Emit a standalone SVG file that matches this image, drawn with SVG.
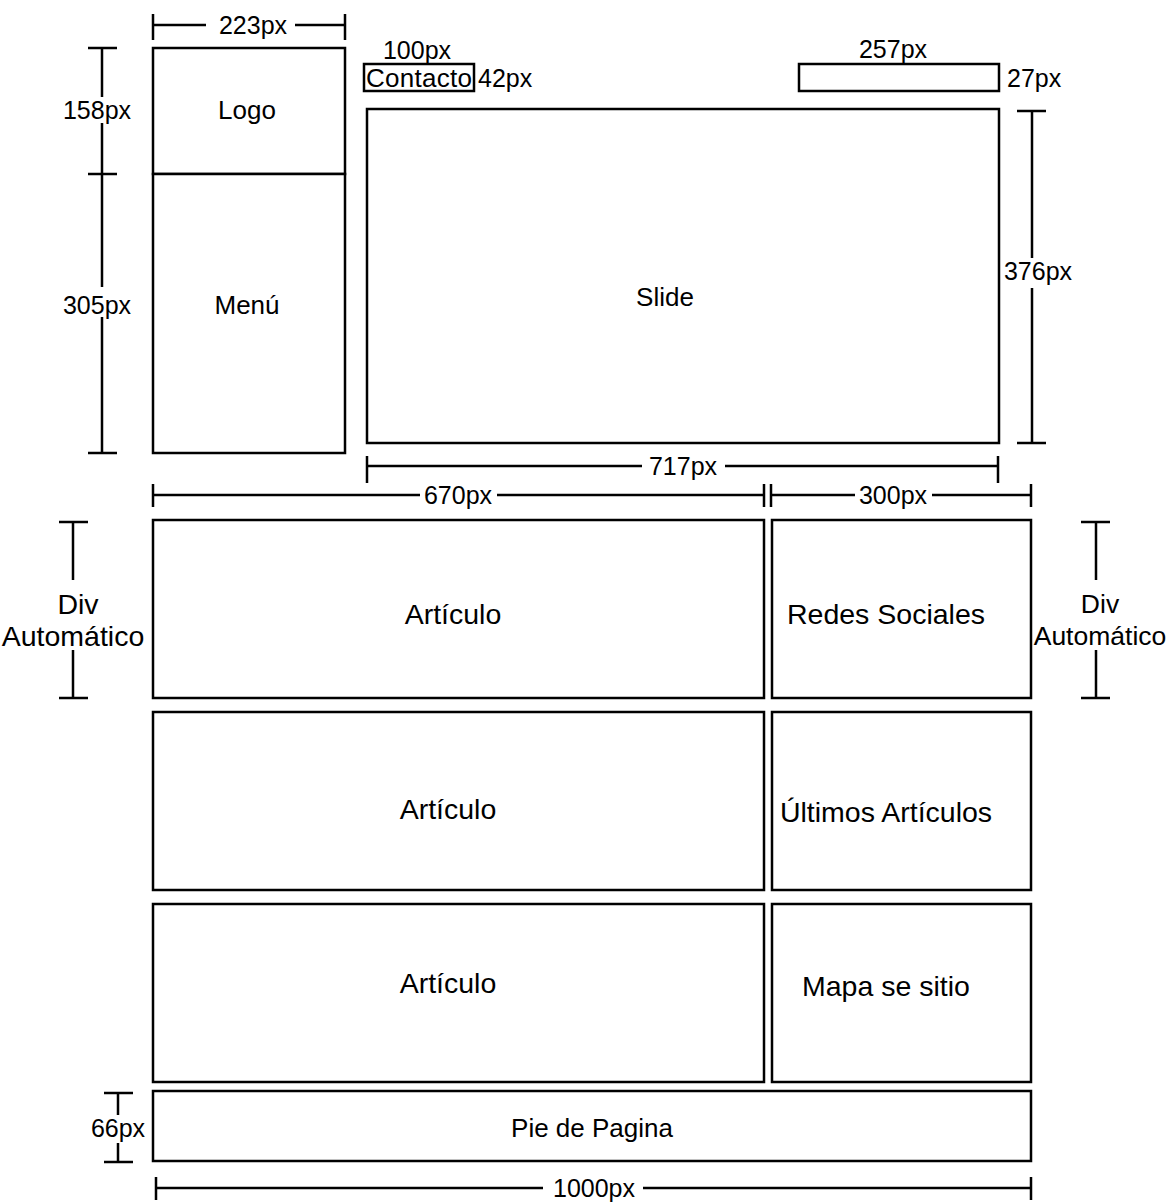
<svg xmlns="http://www.w3.org/2000/svg" width="1170" height="1202" viewBox="0 0 1170 1202">
<style>
.box{fill:#fff;stroke:#000;stroke-width:2.5}
.dim{stroke:#000;stroke-width:2.5;fill:none}
.lbl{font-family:"Liberation Sans",Arial,sans-serif;font-size:26px;fill:#000;text-anchor:middle}
.dl{font-family:"Liberation Sans",Arial,sans-serif;font-size:25px;fill:#000;text-anchor:middle}
.big{font-size:28.5px}
.mid{font-size:26.5px}
.st{text-anchor:start}
</style>
<rect width="1170" height="1202" fill="#fff"/>
<g id="logo"><rect class="box" x="153" y="48" width="192" height="126"/><text class="lbl" x="247" y="119">Logo</text></g>
<g id="menu"><rect class="box" x="153" y="174" width="192" height="279"/><text class="lbl" x="247" y="314">Menú</text></g>
<g id="contacto"><rect class="box" x="364" y="64" width="110" height="27"/><text class="lbl" x="419" y="87" textLength="106">Contacto</text></g>
<g id="buscador"><rect class="box" x="799" y="64" width="200" height="27"/></g>
<g id="slide"><rect class="box" x="367" y="109" width="632" height="334"/><text class="lbl" x="665" y="306">Slide</text></g>
<g id="articulo1"><rect class="box" x="153" y="520" width="611" height="178"/><text class="lbl big" x="453" y="624">Artículo</text></g>
<g id="articulo2"><rect class="box" x="153" y="712" width="611" height="178"/><text class="lbl big" x="448" y="819">Artículo</text></g>
<g id="articulo3"><rect class="box" x="153" y="904" width="611" height="178"/><text class="lbl big" x="448" y="993">Artículo</text></g>
<g id="redes"><rect class="box" x="772" y="520" width="259" height="178"/><text class="lbl big" x="886" y="624">Redes Sociales</text></g>
<g id="ultimos"><rect class="box" x="772" y="712" width="259" height="178"/><text class="lbl big" x="886" y="822">Últimos Artículos</text></g>
<g id="mapa"><rect class="box" x="772" y="904" width="259" height="178"/><text class="lbl big" x="886" y="996">Mapa se sitio</text></g>
<g id="pie"><rect class="box" x="153" y="1091" width="878" height="70"/><text class="lbl" x="592" y="1137">Pie de Pagina</text></g>
<g id="connectors">
<path class="dim" d="M153,14V40M345,14V40M153,25H206M295,25H345"/>
<text class="dl" x="253" y="34">223px</text>
<path class="dim" d="M88,48H117M88,174H117M88,453H117M102,48V97M102,123V174M102,174V287M102,317V453"/>
<text class="dl" x="97" y="119">158px</text>
<text class="dl" x="97" y="314">305px</text>
<text class="dl" x="417" y="59">100px</text>
<text class="dl st" x="478" y="87">42px</text>
<text class="dl" x="893" y="58">257px</text>
<text class="dl st" x="1007" y="87">27px</text>
<path class="dim" d="M1017,111H1046M1017,443H1046M1032,111V258M1032,288V443"/>
<text class="dl" x="1038" y="280">376px</text>
<path class="dim" d="M367,456V483M998,456V483M367,466H642M725,466H998"/>
<text class="dl" x="683" y="475">717px</text>
<path class="dim" d="M153,484V507M764,484V507M771,484V507M1031,484V507M153,495H420M497,495H764M771,495H855M932,495H1031"/>
<text class="dl" x="458" y="504">670px</text>
<text class="dl" x="893" y="504">300px</text>
<path class="dim" d="M59,522H88M59,698H88M73,522V580M73,650V698"/>
<text class="dl big" x="78" y="614">Div</text>
<text class="dl big" x="73" y="646">Automático</text>
<path class="dim" d="M1081,522H1110M1081,698H1110M1096,522V580M1096,650V698"/>
<text class="dl mid" x="1100" y="613">Div</text>
<text class="dl mid" x="1100" y="645">Automático</text>
<path class="dim" d="M104,1093H133M104,1162H133M118,1093V1115M118,1143V1162"/>
<text class="dl" x="118" y="1137">66px</text>
<path class="dim" d="M156,1177V1200M1031,1177V1200M156,1188H543M643,1188H1031"/>
<text class="dl" x="594" y="1197">1000px</text>
</g>
</svg>
